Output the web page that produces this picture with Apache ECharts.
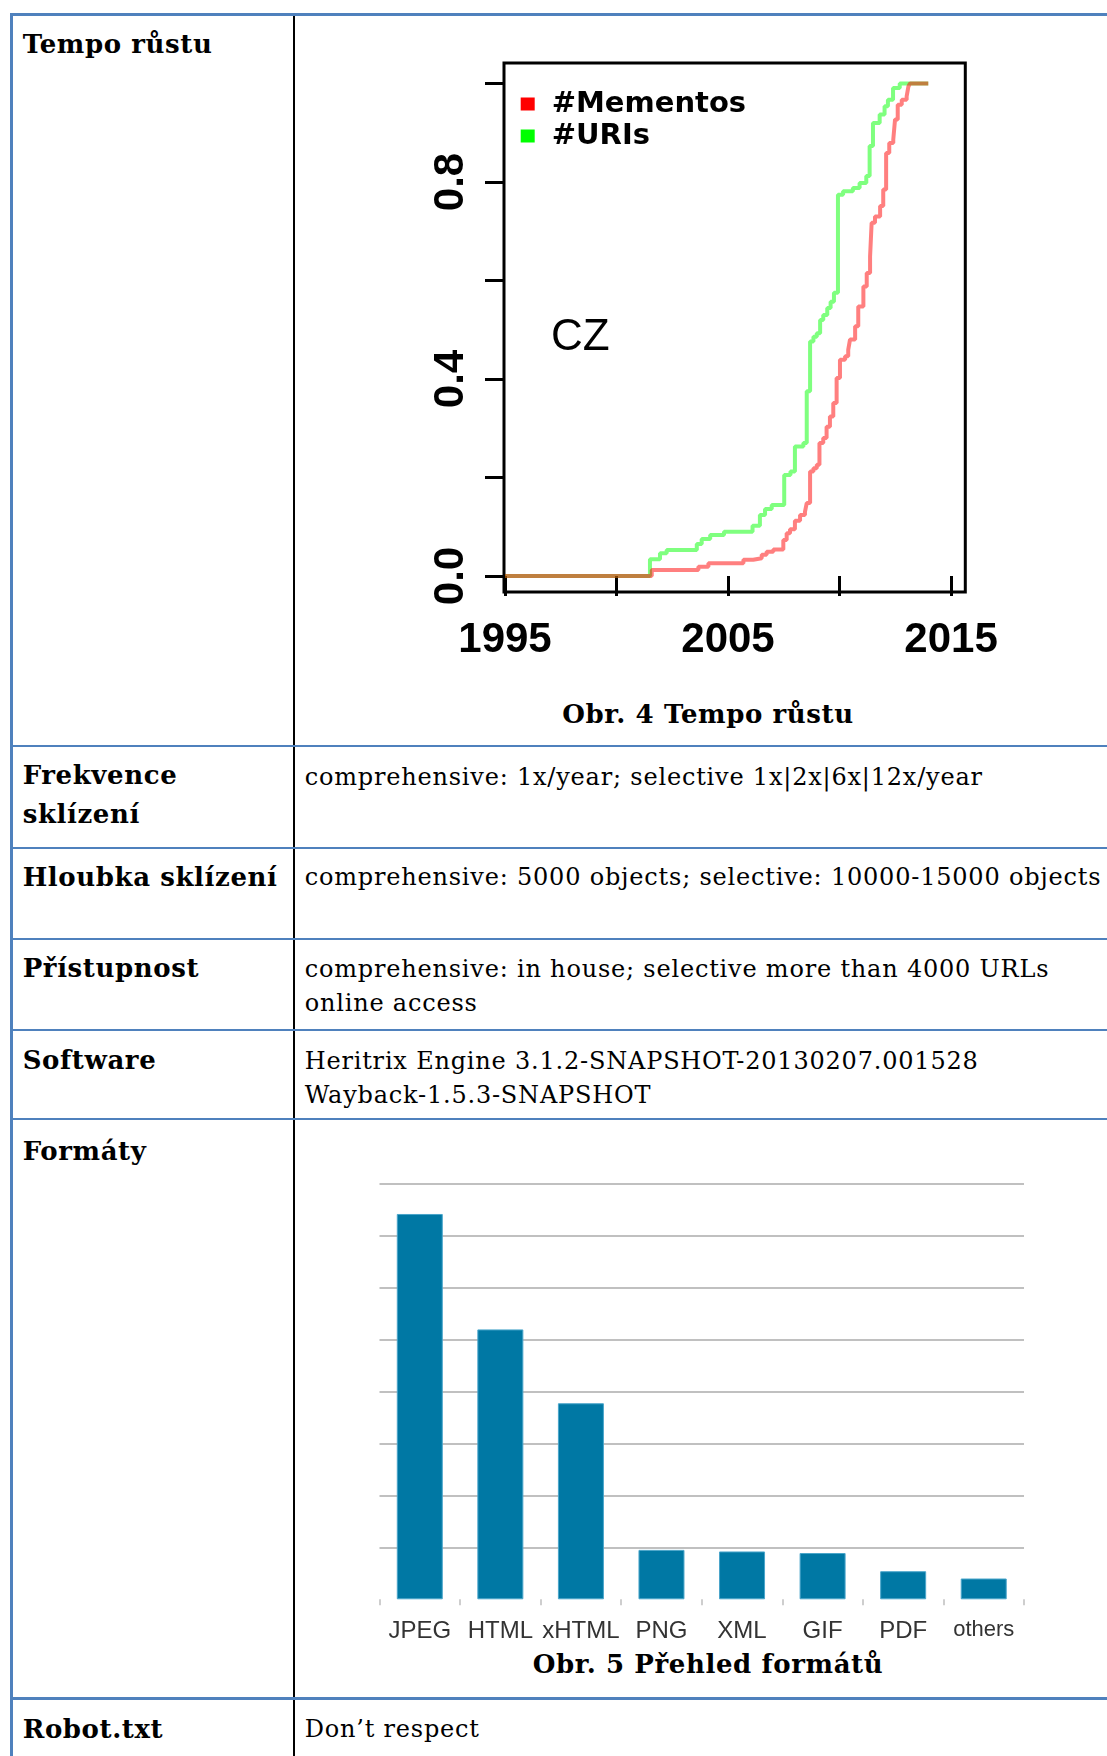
<!DOCTYPE html>
<html><head><meta charset="utf-8">
<script src="https://cdn.jsdelivr.net/npm/echarts@6/dist/echarts.min.js"></script>
<style>
html,body{margin:0;padding:0;background:#fff;}
body{width:1107px;height:1756px;overflow:hidden;position:relative;}
.ln{position:absolute;background:#4F81BD;}
.t{position:absolute;font-family:"DejaVu Serif";font-size:24px;line-height:24px;white-space:nowrap;color:#000;letter-spacing:0.8px;}
.b{font-weight:bold;font-size:26px;line-height:26px;letter-spacing:0.6px;}
.c{transform:translateX(-50%);}
#chart{position:absolute;left:0;top:0;width:1107px;height:1756px;}
</style></head><body>
<div style="position:absolute;left:292.7px;top:15px;width:2px;height:1741px;background:#000"></div>
<div class="ln" style="left:10px;top:13px;width:1097px;height:2.5px"></div>
<div class="ln" style="left:10px;top:13px;width:2.7px;height:1743px"></div>
<div class="ln" style="left:10px;top:745px;width:1097px;height:2.4px"></div>
<div class="ln" style="left:10px;top:846.6px;width:1097px;height:2.4px"></div>
<div class="ln" style="left:10px;top:937.7px;width:1097px;height:2.4px"></div>
<div class="ln" style="left:10px;top:1028.7px;width:1097px;height:2.4px"></div>
<div class="ln" style="left:10px;top:1118px;width:1097px;height:2.4px"></div>
<div class="ln" style="left:10px;top:1697px;width:1097px;height:2.6px"></div>

<div class="t b" style="left:22.7px;top:30.7px">Tempo růstu</div>
<div class="t b" style="left:22.7px;top:762.3px">Frekvence</div>
<div class="t b" style="left:22.7px;top:801.3px">sklízení</div>
<div class="t b" style="left:22.7px;top:863.7px">Hloubka sklízení</div>
<div class="t b" style="left:22.7px;top:955.3px">Přístupnost</div>
<div class="t b" style="left:22.7px;top:1047px">Software</div>
<div class="t b" style="left:22.7px;top:1137.6px">Formáty</div>
<div class="t b" style="left:22.7px;top:1715.7px">Robot.txt</div>

<div class="t" style="left:304.7px;top:764.7px">comprehensive: 1x/year; selective 1x|2x|6x|12x/year</div>
<div class="t" style="left:304.7px;top:865.4px">comprehensive: 5000 objects; selective: 10000-15000 objects</div>
<div class="t" style="left:304.7px;top:957px">comprehensive: in house; selective more than 4000 URLs</div>
<div class="t" style="left:304.7px;top:991.2px">online access</div>
<div class="t" style="left:304.7px;top:1048.7px">Heritrix Engine 3.1.2-SNAPSHOT-20130207.001528</div>
<div class="t" style="left:304.7px;top:1082.7px">Wayback-1.5.3-SNAPSHOT</div>
<div class="t" style="left:304.7px;top:1717.4px">Don’t respect</div>

<div class="t b c" style="left:708px;top:700.6px">Obr. 4 Tempo růstu</div>
<div class="t b c" style="left:708px;top:1651.3px">Obr. 5 Přehled formátů</div>

<div id="chart"></div>
<script>
// ---- Chart 1: cumulative growth (step curves) ----
const urisYears = [1995, 2001.50, 2001.95, 2002.25, 2003.60, 2003.82, 2004.20, 2004.82, 2006.10, 2006.43, 2006.66, 2006.96, 2007.52, 2007.80, 2008.00, 2008.38, 2008.53, 2008.68, 2008.83, 2008.98, 2009.13, 2009.27, 2009.45, 2009.60, 2009.75, 2009.93, 2010.16, 2010.60, 2010.90, 2011.20, 2011.35, 2011.50, 2011.80, 2012.02, 2012.17, 2012.40, 2012.70, 2013.98];
const urisValues = [0, 0.034, 0.046, 0.053, 0.065, 0.075, 0.083, 0.090, 0.102, 0.124, 0.136, 0.144, 0.205, 0.212, 0.263, 0.270, 0.375, 0.476, 0.486, 0.493, 0.520, 0.530, 0.544, 0.557, 0.575, 0.774, 0.781, 0.788, 0.798, 0.812, 0.873, 0.920, 0.937, 0.954, 0.967, 0.991, 1.0, 1.0];
const mementosYears = [1995, 2001.58, 2003.67, 2004.12, 2005.69, 2006.13, 2006.51, 2006.73, 2007.03, 2007.48, 2007.63, 2007.78, 2008.00, 2008.23, 2008.45, 2008.53, 2008.68, 2008.83, 2008.98, 2009.10, 2009.27, 2009.42, 2009.57, 2009.72, 2009.87, 2010.02, 2010.25, 2010.39, 2010.47, 2010.70, 2010.84, 2011.07, 2011.22, 2011.37, 2011.44, 2011.59, 2011.82, 2011.96, 2012.09, 2012.23, 2012.41, 2012.49, 2012.61, 2012.79, 2013.01, 2013.09, 2013.16, 2013.98];
const mementosValues = [0, 0.012, 0.019, 0.026, 0.033, 0.036, 0.043, 0.049, 0.054, 0.073, 0.087, 0.095, 0.112, 0.124, 0.130, 0.148, 0.212, 0.219, 0.226, 0.270, 0.280, 0.303, 0.324, 0.351, 0.402, 0.439, 0.446, 0.459, 0.480, 0.507, 0.547, 0.588, 0.615, 0.649, 0.717, 0.730, 0.751, 0.785, 0.859, 0.879, 0.886, 0.927, 0.957, 0.967, 0.974, 0.994, 1.0, 1.0];
const xTickYears = [1995, 2000, 2005, 2010, 2015];
const xLabelYears = [1995, 2005, 2015];
const yTickValues = [0, 0.2, 0.4, 0.6, 0.8, 1.0];
const yLabelValues = [0, 0.4, 0.8];

// ---- Chart 2: formats ----
const formatNames = ['JPEG', 'HTML', 'xHTML', 'PNG', 'XML', 'GIF', 'PDF', 'others'];
const formatValues = [7.41, 5.19, 3.77, 0.95, 0.92, 0.89, 0.54, 0.40];

const pair = (xs, ys) => xs.map((x, i) => [x, ys[i]]);

const chart = echarts.init(document.getElementById('chart'), null, {renderer: 'canvas'});
chart.setOption({
  animation: false,
  backgroundColor: 'transparent',
  grid: [
    {left: 504, top: 63, width: 461.3, height: 529, show: true, borderColor: '#000', borderWidth: 3, backgroundColor: 'transparent', outerBoundsMode: 'none', containLabel: false},
    {left: 379.5, top: 1183.3, width: 644.5, height: 416, outerBoundsMode: 'none', containLabel: false}
  ],
  legend: {
    orient: 'vertical', left: 520.7, top: 89.5, padding: 0, itemWidth: 14, itemHeight: 13, itemGap: 3,
    icon: 'rect', selectedMode: false,
    data: [{name: '#Mementos', itemStyle: {color: '#ff0000'}}, {name: '#URIs', itemStyle: {color: '#00ff00'}}],
    textStyle: {fontFamily: 'DejaVu Sans', fontWeight: 'bold', fontSize: 29, lineHeight: 29, color: '#000', padding: [0, 0, 0, 12]}
  },
  graphic: [
    {type: 'text', left: 551, top: 316, style: {text: 'CZ', fontFamily: 'Liberation Sans', fontSize: 44, fill: '#000'}}
  ],
  xAxis: [
    {gridIndex: 0, type: 'value', min: 1994.955, max: 2015.64,
     splitLine: {show: false}, axisLine: {show: false},
     axisTick: {show: true, customValues: xTickYears, length: 20, lineStyle: {color: '#000', width: 3}},
     axisLabel: {customValues: xLabelYears, formatter: v => String(Math.round(v)), fontSize: 42, fontFamily: 'Liberation Sans', fontWeight: 'bold', color: '#000', margin: 27}},
    {gridIndex: 1, type: 'category', data: formatNames.map(n => n === 'others' ? {value: n, textStyle: {fontSize: 22}} : n),
     axisLine: {show: false},
     axisTick: {show: true, interval: 0, length: 6, lineStyle: {color: '#bfbfbf', width: 1.5}},
     axisLabel: {interval: 0, fontSize: 24, fontFamily: 'Liberation Sans', color: '#333', margin: 20}}
  ],
  yAxis: [
    {gridIndex: 0, type: 'value', min: -0.0325, max: 1.0416,
     splitLine: {show: false}, axisLine: {show: false},
     axisTick: {show: true, customValues: yTickValues, length: 19, lineStyle: {color: '#000', width: 3}},
     axisLabel: {customValues: yLabelValues, rotate: 90, formatter: v => v.toFixed(1), fontSize: 42, fontFamily: 'Liberation Sans', fontWeight: 'bold', color: '#000', margin: 32}},
    {gridIndex: 1, type: 'value', min: 0, max: 8, interval: 1,
     axisLine: {show: false}, axisTick: {show: false}, axisLabel: {show: false},
     splitLine: {show: true, showMinLine: false, lineStyle: {color: '#c0c0c0', width: 2}}}
  ],
  series: [
    {type: 'line', name: '#URIs', xAxisIndex: 0, yAxisIndex: 0, data: pair(urisYears, urisValues), step: 'end',
     showSymbol: false, symbol: 'none', itemStyle: {color: '#00ff00'}, lineStyle: {color: 'rgba(0,255,0,0.5)', width: 4}, z: 2},
    {type: 'line', name: '#Mementos', xAxisIndex: 0, yAxisIndex: 0, data: pair(mementosYears, mementosValues), step: 'end',
     showSymbol: false, symbol: 'none', itemStyle: {color: '#ff0000'}, lineStyle: {color: 'rgba(255,0,0,0.5)', width: 4}, z: 3},
    {type: 'bar', name: 'formats', xAxisIndex: 1, yAxisIndex: 1, data: formatValues, barWidth: 46,
     itemStyle: {color: '#0078A4', borderColor: '#4aa6cb', borderWidth: 1}}
  ]
});
</script>
</body></html>
